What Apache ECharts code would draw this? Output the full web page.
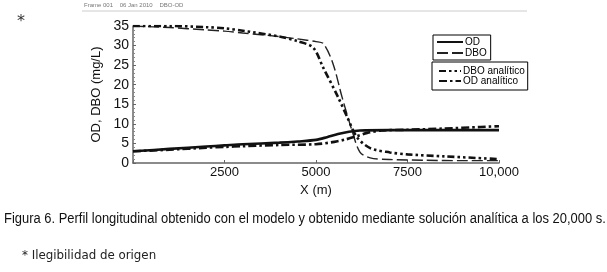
<!DOCTYPE html>
<html>
<head>
<meta charset="utf-8">
<script src="https://cdn.jsdelivr.net/npm/echarts@6/dist/echarts.min.js"></script>
<style>
  body { margin: 0; background: #fff; }
  #chart { width: 607px; height: 272px; }
</style>
</head>
<body>
<div id="chart"></div>
<script>
// values (x in m, concentration in mg/L)
var odX = [0, 1000, 2000, 2500, 3000, 4000, 4500, 5000, 5300, 5600, 5900, 6200, 7000, 8000, 9000, 10000];
var odY = [3.0, 3.6, 4.2, 4.5, 4.8, 5.2, 5.5, 5.9, 6.6, 7.4, 8.0, 8.3, 8.4, 8.4, 8.4, 8.4];

var dboX = [0, 1000, 2000, 2500, 3000, 4000, 4500, 5000, 5200, 5460, 5710, 5980, 6200, 6480, 7000, 8000, 9000, 10000];
var dboY = [35, 34.6, 34.0, 33.7, 33.2, 32.3, 31.7, 31.0, 30.5, 25.5, 16.9, 8.4, 2.8, 1.3, 0.9, 0.7, 0.6, 0.6];

var dboAnX = [0, 1000, 2000, 2500, 3000, 4000, 4500, 4920, 5190, 5600, 5850, 6120, 6480, 7020, 7500, 8500, 10000];
var dboAnY = [35, 35, 34.7, 34.4, 33.8, 32.3, 31.1, 29.5, 24.5, 16.9, 11.8, 6.6, 3.8, 2.7, 2.2, 1.7, 1.0];

var odAnX = [0, 1000, 2000, 2500, 3000, 4000, 5000, 5500, 5800, 6100, 6400, 6800, 7500, 8500, 9500, 10000];
var odAnY = [3.0, 3.4, 3.9, 4.1, 4.3, 4.6, 4.8, 5.4, 6.0, 6.8, 7.7, 8.3, 8.5, 8.8, 9.2, 9.4];

var xTicks = [2500, 5000, 7500, 10000];

function pairs(xs, ys) {
  return xs.map(function (x, i) { return [x, ys[i]]; });
}

var sans = '"Liberation Sans", Arial, sans-serif';

var chart = echarts.init(document.getElementById('chart'));
var option = {
  backgroundColor: '#fff',
  animation: false,
  graphic: [
    { type: 'text', x: 84, y: 2, style: { text: 'Frame 001    06 Jan 2010    DBO-OD', fontSize: 6, fill: '#777', fontFamily: sans } },
    { type: 'line', shape: { x1: 82, y1: 11, x2: 527, y2: 11 }, style: { stroke: '#ccc', lineWidth: 1 } },
    { type: 'text', x: 17, y: 14, style: { text: '*', fontSize: 16, fill: '#333', fontFamily: '"DejaVu Sans", sans-serif' } },
    {
      type: 'text', x: 4, y: 212, scaleX: 0.925,
      style: {
        text: 'Figura 6. Perfil longitudinal obtenido con el modelo y obtenido mediante solución analítica a los 20,000 s.',
        fontSize: 14, fill: '#111', fontFamily: sans
      }
    },
    {
      type: 'text', x: 22, y: 249, scaleX: 0.91,
      style: { text: '* Ilegibilidad de origen', fontSize: 13, fill: '#222', fontFamily: '"DejaVu Sans", sans-serif' }
    }
  ],
  grid: { left: 133, right: 108, top: 26, bottom: 109 },
  legend: [
    {
      data: ['OD', 'DBO'],
      orient: 'vertical', left: 433, top: 35,
      borderColor: '#000', borderWidth: 1, padding: [2, 4, 2, 3],
      itemGap: 1, itemWidth: 26, itemHeight: 8,
      itemStyle: { color: 'rgba(0,0,0,0)', borderWidth: 0 },
      textStyle: { fontFamily: sans, fontSize: 10, color: '#000', padding: [0, 0, 0, -3] }
    },
    {
      data: ['DBO analítico', 'OD analítico'],
      orient: 'vertical', left: 432, top: 62,
      borderColor: '#000', borderWidth: 1, padding: [4, 3, 4, 6],
      itemGap: 0, itemWidth: 22, itemHeight: 8,
      itemStyle: { color: 'rgba(0,0,0,0)', borderWidth: 0 },
      textStyle: { fontFamily: sans, fontSize: 10, color: '#000', padding: [0, 0, 0, -3] }
    }
  ],
  xAxis: {
    type: 'value', min: 0, max: 10000, interval: 2500,
    name: 'X (m)', nameLocation: 'middle', nameGap: 15,
    nameTextStyle: { fontFamily: sans, fontSize: 13, color: '#111' },
    axisLine: { lineStyle: { color: '#666', width: 1.5 } },
    axisTick: { inside: true, length: 3, lineStyle: { color: '#666' } },
    splitLine: { show: false },
    axisLabel: {
      fontFamily: sans, fontSize: 13, color: '#111', margin: 3,
      formatter: function (v) {
        if (xTicks.indexOf(v) < 0) return '';
        return v >= 10000 ? v.toLocaleString('en-US') : String(v);
      }
    }
  },
  yAxis: {
    type: 'value', min: 0, max: 35, interval: 5,
    name: 'OD, DBO (mg/L)', nameLocation: 'middle', nameGap: 23, nameRotate: 90,
    nameTextStyle: { fontFamily: sans, fontSize: 13, color: '#111' },
    axisLine: { show: true, lineStyle: { color: '#666', width: 1.5 } },
    axisTick: { show: true, inside: true, length: 3, lineStyle: { color: '#666' } },
    minorTick: { show: true, splitNumber: 5, length: 2, lineStyle: { color: '#888' } },
    splitLine: { show: false },
    axisLabel: { fontFamily: sans, fontSize: 14, color: '#111', margin: 4 }
  },
  series: [
    {
      name: 'OD', type: 'line', data: pairs(odX, odY), smooth: 0.3, showSymbol: false, symbol: 'none',
      lineStyle: { color: '#111', width: 2.6, type: 'solid' }, itemStyle: { color: '#111' }
    },
    {
      name: 'DBO', type: 'line', data: pairs(dboX, dboY), smooth: 0.3, showSymbol: false, symbol: 'none',
      lineStyle: { color: '#222', width: 1.4, type: [11, 4] }, itemStyle: { color: '#222' }
    },
    {
      name: 'DBO analítico', type: 'line', data: pairs(dboAnX, dboAnY), smooth: 0.3, showSymbol: false, symbol: 'none',
      lineStyle: { color: '#111', width: 2.6, type: [7, 3, 2.5, 3, 2.5, 3] }, itemStyle: { color: '#111' }
    },
    {
      name: 'OD analítico', type: 'line', data: pairs(odAnX, odAnY), smooth: 0.3, showSymbol: false, symbol: 'none',
      lineStyle: { color: '#111', width: 2.6, type: [8, 3, 2.5, 3] }, itemStyle: { color: '#111' }
    }
  ]
};
chart.setOption(option);
</script>
</body>
</html>
